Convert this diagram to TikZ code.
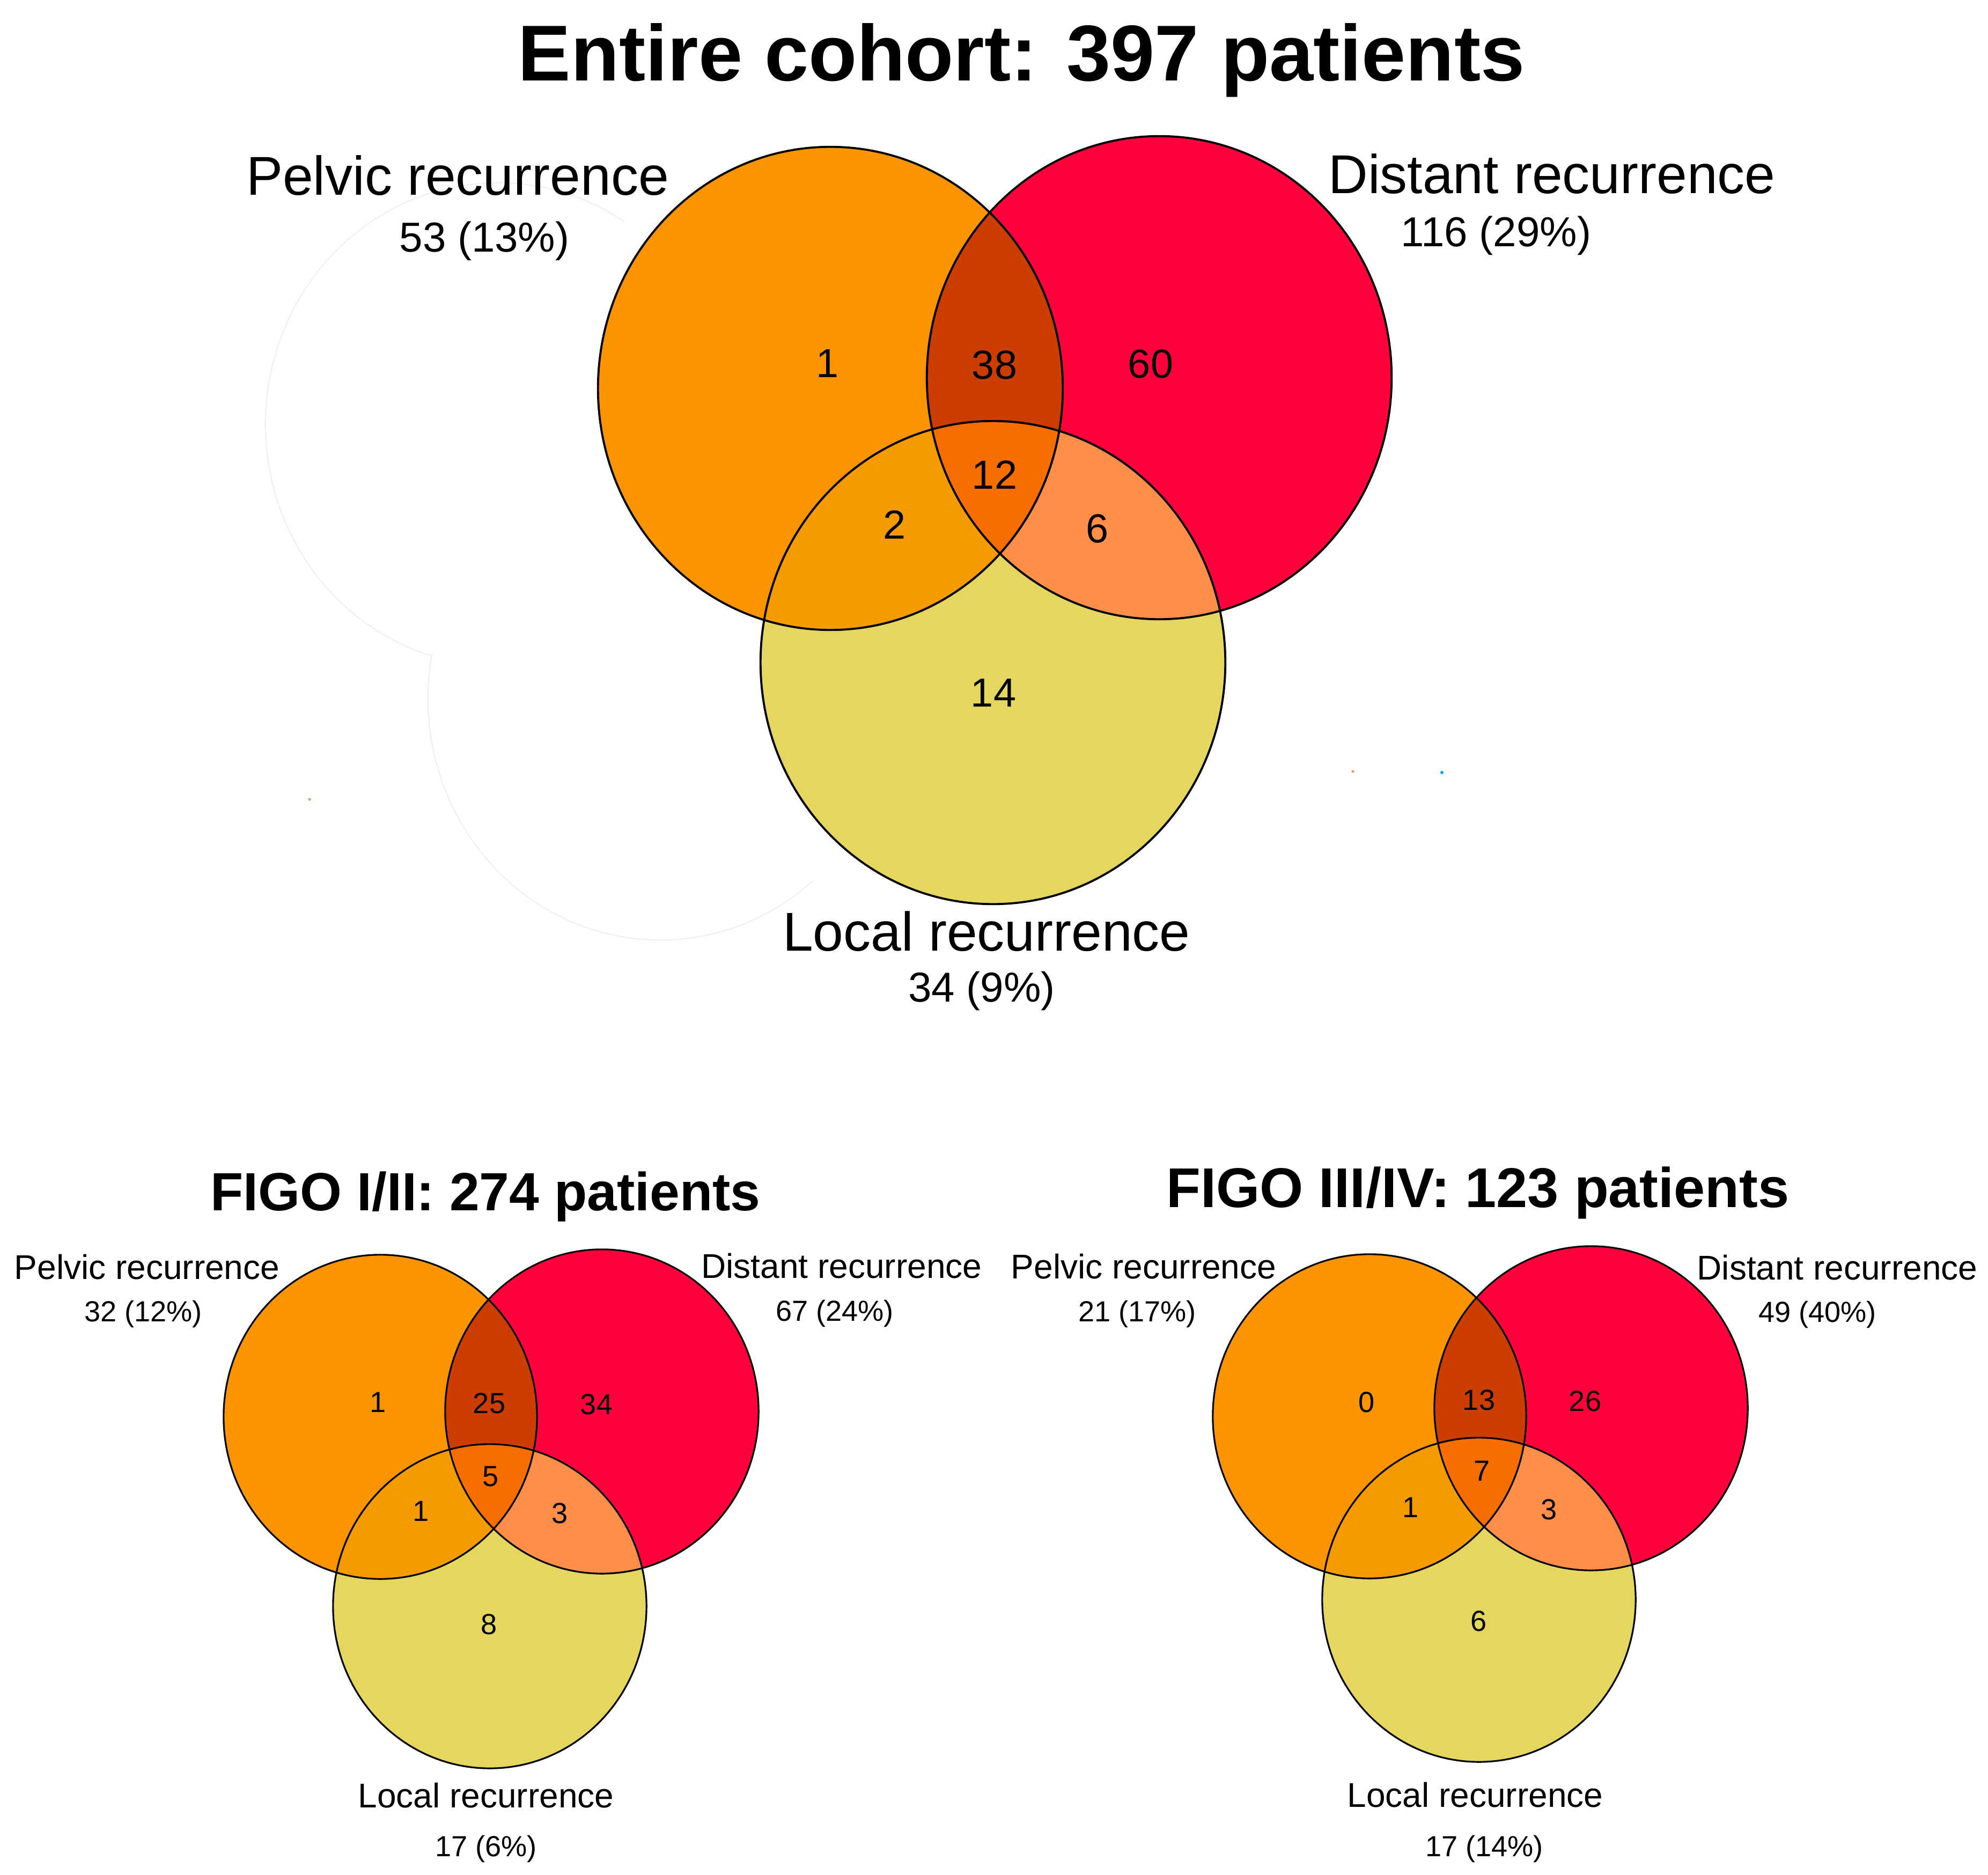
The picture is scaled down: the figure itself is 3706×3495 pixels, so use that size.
\documentclass[tikz,border=0pt]{standalone}
\usepackage{fontspec}
\setmainfont{Liberation Sans}
\definecolor{cP}{RGB}{250,148,0}
\definecolor{cD}{RGB}{255,0,60}
\definecolor{cL}{RGB}{228,214,94}
\definecolor{cPD}{RGB}{204,62,0}
\definecolor{cPL}{RGB}{245,155,0}
\definecolor{cDL}{RGB}{255,142,72}
\definecolor{cPDL}{RGB}{247,110,0}
\definecolor{ghostc}{RGB}{240,240,240}
\definecolor{dotO}{RGB}{255,140,80}
\definecolor{dotC}{RGB}{0,170,220}
\newcommand\vfTitle{\fontsize{42}{50}\selectfont\bfseries}
\newcommand\vfSubTitle{\fontsize{28.5}{34}\selectfont\bfseries}
\newcommand\vfSubTitleR{\fontsize{29.7}{35}\selectfont\bfseries}
\newcommand\vfLabA{\fontsize{29}{34}\selectfont}
\newcommand\vfCntA{\fontsize{22.2}{26}\selectfont}
\newcommand\vfNumA{\fontsize{21.5}{25}\selectfont}
\newcommand\vfLabB{\fontsize{18.2}{22}\selectfont}
\newcommand\vfCntB{\fontsize{15.4}{18}\selectfont}
\newcommand\vfNumB{\fontsize{15.4}{18}\selectfont}
% #1 #2 #3 : centres of pelvic, distant, local; #4 x radius; #5 y radius; #6 line width
\newcommand\vennfig[6]{%
  \fill[cP] (#1) ellipse[x radius=#4, y radius=#5];
  \fill[cD] (#2) ellipse[x radius=#4, y radius=#5];
  \fill[cL] (#3) ellipse[x radius=#4, y radius=#5];
  \begin{scope}\clip (#1) ellipse[x radius=#4, y radius=#5];
    \fill[cPD] (#2) ellipse[x radius=#4, y radius=#5];\end{scope}
  \begin{scope}\clip (#1) ellipse[x radius=#4, y radius=#5];
    \fill[cPL] (#3) ellipse[x radius=#4, y radius=#5];\end{scope}
  \begin{scope}\clip (#2) ellipse[x radius=#4, y radius=#5];
    \fill[cDL] (#3) ellipse[x radius=#4, y radius=#5];\end{scope}
  \begin{scope}\clip (#1) ellipse[x radius=#4, y radius=#5];
    \clip (#2) ellipse[x radius=#4, y radius=#5];
    \fill[cPDL] (#3) ellipse[x radius=#4, y radius=#5];\end{scope}
  \draw[line width=#6] (#1) ellipse[x radius=#4, y radius=#5];
  \draw[line width=#6] (#2) ellipse[x radius=#4, y radius=#5];
  \draw[line width=#6] (#3) ellipse[x radius=#4, y radius=#5];
}
\begin{document}
\begin{tikzpicture}[x=0.01cm,y=-0.01cm,
  txt/.style={inner sep=0pt, outer sep=0pt, text=black},
  lab/.style={txt, anchor=base},
  num/.style={txt, anchor=center},
  ghost/.style={draw=ghostc, line width=0.6pt}]
\useasboundingbox (0,0) rectangle (3706,3495);
\fill[white] (0,0) rectangle (3706,3495);

% ---------- entire cohort ----------
\coordinate (tP) at (1548,724);
\coordinate (tD) at (2161,704);
\coordinate (tL) at (1851,1235);
\coordinate (gP) at (928,791);
\coordinate (gL) at (1231,1302);

% faint ghost outline
\draw[ghost] (gP) ++(57:4.33cm and 4.5cm) arc[start angle=57, end angle=253.5, x radius=4.33cm, y radius=4.5cm];
\draw[ghost] (gL) ++(169.5:4.33cm and 4.5cm) arc[start angle=169.5, end angle=311, x radius=4.33cm, y radius=4.5cm];

\vennfig{tP}{tD}{tL}{4.33cm}{4.50cm}{1.1pt}

\node[lab, font=\vfTitle] (ttitle) at (1904,151) {Entire cohort: 397 patients};
\node[lab, font=\vfLabA] (tPlab) at (853,364) {Pelvic recurrence};
\node[lab, font=\vfCntA] (tPcnt) at (903,470) {53 (13\%)};
\node[lab, font=\vfLabA] (tDlab) at (2893,361) {Distant recurrence};
\node[lab, font=\vfCntA] (tDcnt) at (2789,460) {116 (29\%)};
\node[lab, font=\vfLabA] (tLlab) at (1839,1772) {Local recurrence};
\node[lab, font=\vfCntA] (tLcnt) at (1830,1867) {34 (9\%)};

\node[num, font=\vfNumA] (tn1) at (1543,677) {1};
\node[num, font=\vfNumA] (tn2) at (1854,680) {38};
\node[num, font=\vfNumA] (tn3) at (2145,678) {60};
\node[num, font=\vfNumA] (tn4) at (1854,885) {12};
\node[num, font=\vfNumA] (tn5) at (1668,978) {2};
\node[num, font=\vfNumA] (tn6) at (2045,985) {6};
\node[num, font=\vfNumA] (tn7) at (1852,1291) {14};

% stray specks
\fill[dotO] (577,1490) circle[radius=0.025cm];
\fill[dotO] (2522,1438) circle[radius=0.025cm];
\fill[dotC] (2688,1440) circle[radius=0.03cm];

% ---------- FIGO I/II ----------
\coordinate (bP) at (709,2641);
\coordinate (bD) at (1122,2631);
\coordinate (bL) at (913,2994);
\vennfig{bP}{bD}{bL}{2.92cm}{3.02cm}{0.9pt}

\node[lab, font=\vfSubTitle] (btitle) at (905,2256) {FIGO I/II: 274 patients};
\node[lab, font=\vfLabB] (bPlab) at (274,2384) {Pelvic recurrence};
\node[lab, font=\vfCntB] (bPcnt) at (267,2463) {32 (12\%)};
\node[lab, font=\vfLabB] (bDlab) at (1569,2382) {Distant recurrence};
\node[lab, font=\vfCntB] (bDcnt) at (1556,2462) {67 (24\%)};
\node[lab, font=\vfLabB] (bLlab) at (906,3369) {Local recurrence};
\node[lab, font=\vfCntB] (bLcnt) at (906,3460) {17 (6\%)};

\node[num, font=\vfNumB] (bn1) at (705,2614) {1};
\node[num, font=\vfNumB] (bn2) at (912,2616) {25};
\node[num, font=\vfNumB] (bn3) at (1112,2618) {34};
\node[num, font=\vfNumB] (bn4) at (915,2752) {5};
\node[num, font=\vfNumB] (bn5) at (785,2817) {1};
\node[num, font=\vfNumB] (bn6) at (1044,2821) {3};
\node[num, font=\vfNumB] (bn7) at (912,3028) {8};

% ---------- FIGO III/IV ----------
\coordinate (rP) at (2553,2640);
\coordinate (rD) at (2966,2625);
\coordinate (rL) at (2757,2982);
\vennfig{rP}{rD}{rL}{2.92cm}{3.02cm}{0.9pt}

\node[lab, font=\vfSubTitleR] (rtitle) at (2755,2250) {FIGO III/IV: 123 patients};
\node[lab, font=\vfLabB] (rPlab) at (2132,2383) {Pelvic recurrence};
\node[lab, font=\vfCntB] (rPcnt) at (2120,2463) {21 (17\%)};
\node[lab, font=\vfLabB] (rDlab) at (3425,2385) {Distant recurrence};
\node[lab, font=\vfCntB] (rDcnt) at (3388,2464) {49 (40\%)};
\node[lab, font=\vfLabB] (rLlab) at (2750,3368) {Local recurrence};
\node[lab, font=\vfCntB] (rLcnt) at (2767,3460) {17 (14\%)};

\node[num, font=\vfNumB] (rn1) at (2548,2614) {0};
\node[num, font=\vfNumB] (rn2) at (2757,2610) {13};
\node[num, font=\vfNumB] (rn3) at (2955,2612) {26};
\node[num, font=\vfNumB] (rn4) at (2763,2742) {7};
\node[num, font=\vfNumB] (rn5) at (2630,2810) {1};
\node[num, font=\vfNumB] (rn6) at (2888,2814) {3};
\node[num, font=\vfNumB] (rn7) at (2757,3022) {6};
\end{tikzpicture}
\end{document}
